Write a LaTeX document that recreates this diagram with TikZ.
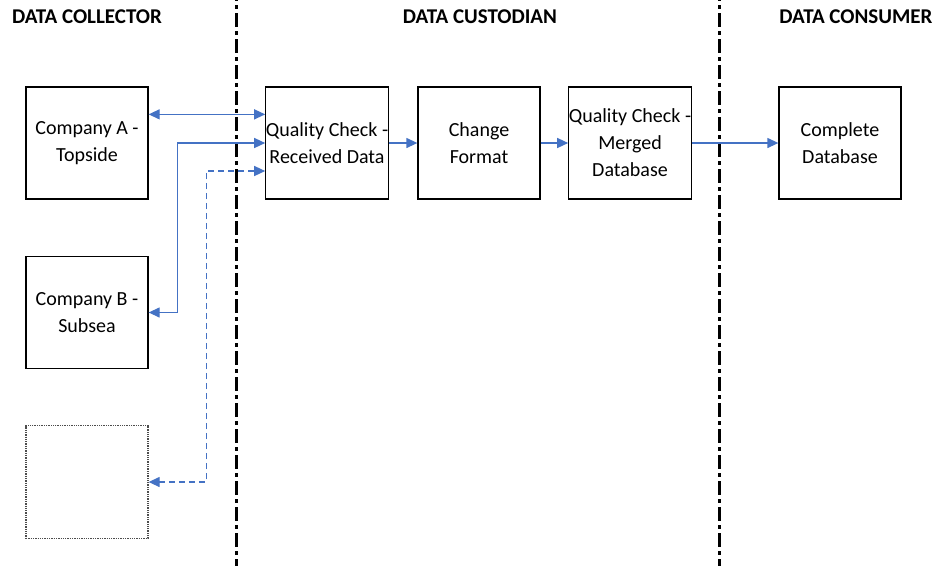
\documentclass[tikz,border=0pt]{standalone}
\usepackage{fontspec}
\setmainfont{Carlito}
\usetikzlibrary{arrows.meta}
\definecolor{linkblue}{HTML}{4472C4}
\tikzset{
  box/.style={draw=black, line width=1.3pt, minimum width=122pt, minimum height=112pt,
    inner sep=0pt, align=center, font=\fontsize{20}{27}\selectfont},
  emptybox/.style={draw=gray!60!black, line width=1.3pt, densely dotted,
    minimum width=122pt, minimum height=113pt, inner sep=0pt},
  header/.style={font=\bfseries\fontsize{21}{24}\selectfont, inner sep=0pt},
  link/.style={draw=linkblue, line width=1.3pt,
    {Triangle[length=11pt,width=10pt]}-{Triangle[length=11pt,width=10pt]}},
  onelink/.style={draw=linkblue, line width=1.3pt, -{Triangle[length=11pt,width=10pt]}},
  divider/.style={draw=black, line width=3pt, dash pattern=on 14pt off 4pt on 4pt off 4pt}
}
\begin{document}
\begin{tikzpicture}[x=1pt,y=-1pt]
\useasboundingbox (0,0) rectangle (935,566);

% lane headers
\node[header] (h1) at (87,17) {DATA COLLECTOR};
\node[header] (h2) at (480,17) {DATA CUSTODIAN};
\node[header] (h3) at (856,17) {DATA CONSUMER};

% lane dividers
\coordinate (d1t) at (236,-13);
\coordinate (d1b) at (236,566);
\coordinate (d2t) at (719,-13);
\coordinate (d2b) at (719,566);
\draw[divider] (d1t) -- (d1b);
\draw[divider] (d2t) -- (d2b);

% data collectors
\node[box] (ca) at (87,143) {Company A -\\Topside};
\node[box] (cb) at (87,312.5) {Company B -\\Subsea};
\node[emptybox] (cx) at (87,482) {};

% custodian steps
\node[box] (qr) at (327,143) {Quality Check -\\Received Data};
\node[box] (cf) at (479,143) {Change\\Format};
\node[box, minimum width=120pt] (qm) at (630,143) {Quality Check -\\Merged\\Database};

% consumer
\node[box] (cd) at (840,143) {Complete\\Database};

% exchanges with the collectors
\draw[link] ([yshift=-28pt]ca.north east) -- ([yshift=-28pt]qr.north west);
\draw[link] (cb.east) -- ++(29,0) |- (qr.west);
\draw[link, dash pattern=on 6pt off 4pt] (cx.east) -- ++(58,0) |- ([yshift=-28pt]qr.west);

% processing chain
\draw[onelink] (qr.east) -- (cf.west);
\draw[onelink] (cf.east) -- (qm.west);
\draw[onelink] (qm.east) -- (cd.west);
\end{tikzpicture}
\end{document}
